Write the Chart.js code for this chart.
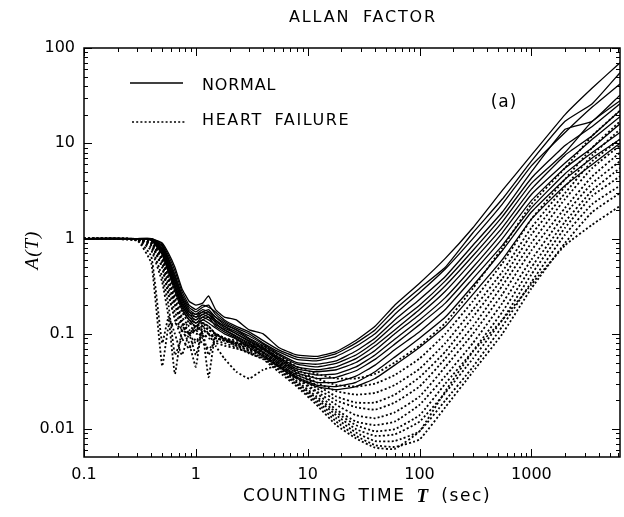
<!DOCTYPE html>
<html>
<head>
<meta charset="utf-8">
<script src="https://cdn.jsdelivr.net/npm/chart.js@4.4.1/dist/chart.umd.min.js"></script>
<style>
  html, body { margin: 0; padding: 0; background: #fff; }
</style>
</head>
<body>
<canvas id="grafico" width="624" height="517"></canvas>
<script>
// === DADOS ===
// tempos de contagem T (sec), partilhados por todas as curvas
const countingTimes = [0.1, 0.3, 0.4, 0.5, 0.57, 0.65, 0.75, 0.87, 1, 1.15, 1.3, 1.5, 1.8, 2.3, 3, 4, 5.5, 8, 12, 18, 27, 40, 60, 100, 170, 300, 550, 1000, 2000, 3500, 6200];

// A(T) - sujeitos normais (linha cheia)
const normal = [
  [1,1,1,0.9,0.7, 0.5,0.3,0.22,0.2,0.21, 0.25,0.18,0.15,0.14,0.11, 0.1,0.072,0.06,0.058,0.065, 0.085,0.12,0.2,0.34,0.62, 1.3,3.2,7.5,20,38, 70],
  [1,1,1,0.88,0.66, 0.46,0.28,0.2,0.18,0.2, 0.19,0.17,0.14,0.12,0.105, 0.085,0.068,0.057,0.055,0.062, 0.08,0.11,0.18,0.3,0.5, 1.15,2.6,6.5,17,26, 55],
  [1,1,0.99,0.85,0.62, 0.42,0.26,0.19,0.17,0.19, 0.2,0.16,0.135,0.115,0.1, 0.08,0.065,0.054,0.052,0.058, 0.074,0.1,0.16,0.27,0.48, 1.0,2.3,5.8,13,24, 42],
  [1,1,0.99,0.83,0.6, 0.4,0.25,0.18,0.16,0.18, 0.17,0.15,0.13,0.11,0.095, 0.078,0.062,0.05,0.048,0.052, 0.066,0.09,0.14,0.23,0.4, 0.85,1.9,5.0,14,17, 32],
  [1,1,0.98,0.8,0.58, 0.38,0.24,0.17,0.16,0.17, 0.18,0.15,0.125,0.11,0.09, 0.075,0.06,0.048,0.045,0.049, 0.06,0.082,0.125,0.2,0.36, 0.75,1.7,4.3,9.5,15, 26],
  [1,1,0.98,0.78,0.55, 0.36,0.23,0.17,0.15,0.17, 0.16,0.14,0.12,0.105,0.088, 0.072,0.057,0.045,0.042,0.045, 0.055,0.075,0.11,0.18,0.32, 0.66,1.5,3.8,8,17, 28],
  [1,1,0.98,0.77,0.54, 0.35,0.22,0.16,0.15,0.16, 0.17,0.14,0.12,0.1,0.085, 0.07,0.055,0.043,0.04,0.042, 0.05,0.067,0.1,0.16,0.28, 0.58,1.3,3.3,7.5,12, 22],
  [1,1,0.97,0.75,0.52, 0.33,0.21,0.16,0.14,0.16, 0.15,0.135,0.115,0.1,0.083, 0.068,0.053,0.041,0.037,0.038, 0.045,0.06,0.088,0.14,0.24, 0.5,1.15,2.9,6.2,11, 19],
  [1,1,0.97,0.74,0.5, 0.32,0.2,0.15,0.14,0.15, 0.16,0.13,0.11,0.095,0.08, 0.065,0.051,0.039,0.034,0.035, 0.041,0.054,0.078,0.125,0.21, 0.44,1.0,2.5,5.5,9, 16],
  [1,1,0.97,0.72,0.48, 0.31,0.2,0.15,0.13,0.15, 0.14,0.125,0.11,0.093,0.078, 0.063,0.049,0.037,0.031,0.031, 0.036,0.047,0.068,0.105,0.18, 0.38,0.85,2.1,4.8,8, 13],
  [1,1,0.96,0.7,0.46, 0.3,0.19,0.14,0.13,0.14, 0.15,0.12,0.105,0.09,0.075, 0.06,0.047,0.035,0.029,0.028, 0.031,0.04,0.057,0.09,0.15, 0.32,0.75,1.9,4.2,7, 11],
  [1,1,0.96,0.68,0.44, 0.28,0.18,0.14,0.12,0.14, 0.13,0.115,0.1,0.088,0.072, 0.058,0.045,0.034,0.028,0.026, 0.028,0.034,0.047,0.072,0.12, 0.26,0.6,1.6,3.6,6, 10]
];

// A(T) - insuficiência cardíaca (pontilhado)
const heartFailure = [
  [1,0.95,0.55,0.046,0.12, 0.13,0.11,0.1,0.12,0.11, 0.1,0.095,0.09,0.085,0.08, 0.075,0.06,0.045,0.038,0.034, 0.034,0.038,0.05,0.075,0.13, 0.3,0.8,2.3,5.5,12, 22],
  [1,0.97,0.75,0.35,0.15, 0.038,0.11,0.13,0.12,0.13, 0.11,0.1,0.09,0.082,0.078, 0.072,0.057,0.042,0.034,0.029, 0.028,0.03,0.037,0.055,0.1, 0.22,0.55,1.6,4.2,9, 17],
  [1,0.98,0.85,0.5,0.25, 0.15,0.11,0.08,0.045,0.13, 0.12,0.1,0.088,0.08,0.075, 0.07,0.055,0.04,0.031,0.025, 0.023,0.024,0.029,0.043,0.08, 0.18,0.45,1.3,3.5,7.5, 14],
  [1,0.99,0.88,0.55,0.3, 0.17,0.12,0.1,0.12,0.1, 0.035,0.1,0.09,0.08,0.072, 0.068,0.053,0.038,0.029,0.022, 0.019,0.019,0.023,0.035,0.065, 0.15,0.38,1.1,3.0,6.5, 11],
  [1,0.99,0.9,0.6,0.35, 0.2,0.13,0.1,0.11,0.12, 0.1,0.075,0.055,0.04,0.034, 0.042,0.046,0.036,0.027,0.02, 0.017,0.016,0.019,0.028,0.055, 0.12,0.32,0.9,2.6,5.5, 9.5],
  [1,0.96,0.65,0.08,0.15, 0.1,0.06,0.1,0.11,0.09, 0.1,0.09,0.085,0.08,0.075, 0.064,0.05,0.035,0.025,0.018, 0.014,0.013,0.015,0.022,0.045, 0.1,0.26,0.75,2.1,4.5, 8],
  [1,0.98,0.8,0.4,0.2, 0.06,0.09,0.1,0.06,0.11, 0.1,0.09,0.085,0.078,0.07, 0.062,0.048,0.034,0.024,0.016, 0.012,0.011,0.012,0.018,0.036, 0.08,0.21,0.6,1.8,3.8, 6.5],
  [1,0.99,0.9,0.6,0.35, 0.2,0.13,0.11,0.1,0.1, 0.06,0.09,0.085,0.075,0.068, 0.06,0.046,0.032,0.022,0.015, 0.011,0.0095,0.01,0.014,0.03, 0.066,0.17,0.5,1.5,3.2, 5.5],
  [1,0.99,0.92,0.65,0.4, 0.24,0.15,0.12,0.11,0.12, 0.11,0.1,0.09,0.077,0.066, 0.058,0.045,0.031,0.021,0.014, 0.01,0.0085,0.0088,0.012,0.024, 0.055,0.14,0.42,1.3,2.8, 4.5],
  [1,0.98,0.85,0.5,0.26, 0.14,0.09,0.07,0.09,0.08, 0.07,0.08,0.075,0.07,0.064, 0.056,0.043,0.03,0.02,0.013, 0.0092,0.0075,0.0075,0.0095,0.02, 0.045,0.12,0.35,1.1,2.3, 3.6],
  [1,0.99,0.9,0.62,0.38, 0.22,0.14,0.1,0.08,0.1, 0.09,0.085,0.08,0.072,0.062, 0.055,0.042,0.029,0.019,0.012, 0.0085,0.0068,0.0065,0.0078,0.017, 0.04,0.1,0.3,0.9,1.9, 3],
  [1,0.99,0.93,0.68,0.45, 0.27,0.17,0.13,0.12,0.13, 0.12,0.1,0.088,0.075,0.063, 0.054,0.04,0.028,0.018,0.011, 0.008,0.0064,0.0062,0.0095,0.025, 0.065,0.14,0.33,0.85,1.4, 2.2]
];

const xTicks = [0.1, 1, 10, 100, 1000];
const yTicks = [0.01, 0.1, 1, 10, 100];
const xRange = [0.1, 6200];
const yRange = [0.0051, 100];

// === ESTILO ===
const SANS = '"DejaVu Sans", sans-serif';
const SERIF = '"Liberation Serif", "DejaVu Serif", serif';

function serie(valores, tracejado) {
  return {
    data: countingTimes.map((t, i) => ({ x: t, y: valores[i] })),
    borderColor: '#000',
    borderWidth: tracejado ? 1.8 : 1.3,
    borderDash: tracejado ? [2, 2.2] : [],
    pointRadius: 0,
    tension: 0.12,
    fill: false
  };
}

const datasets = [
  ...heartFailure.map(v => serie(v, true)),
  ...normal.map(v => serie(v, false))
];

function linha(ctx, x1, y1, x2, y2) {
  ctx.beginPath();
  ctx.moveTo(x1, y1);
  ctx.lineTo(x2, y2);
  ctx.stroke();
}

// escreve texto com espaçamento entre letras e palavras
function texto(ctx, str, x, y, font, letra, palavra) {
  ctx.font = font;
  ctx.letterSpacing = letra + 'px';
  ctx.wordSpacing = palavra + 'px';
  ctx.fillText(str, x, y);
  const w = ctx.measureText(str).width;
  ctx.letterSpacing = '0px';
  ctx.wordSpacing = '0px';
  return w;
}

// moldura, marcas menores, títulos e legenda
const decoracao = {
  id: 'decoracao',
  afterDraw(chart) {
    const { ctx, chartArea: a, scales: { x, y } } = chart;
    ctx.save();
    ctx.strokeStyle = '#000';
    ctx.fillStyle = '#000';
    ctx.lineWidth = 1.5;
    ctx.strokeRect(a.left, a.top, a.right - a.left, a.bottom - a.top);

    ctx.lineWidth = 1;
    for (let d = -1; d <= 3; d++) {
      for (let m = 1; m <= 9; m++) {
        const v = m * Math.pow(10, d);
        if (v < xRange[0] || v > xRange[1]) continue;
        const px = Math.round(x.getPixelForValue(v)) + 0.5;
        const len = m === 1 ? 8 : 4;
        linha(ctx, px, a.bottom, px, a.bottom - len);
        linha(ctx, px, a.top, px, a.top + len);
      }
    }
    for (let d = -3; d <= 2; d++) {
      for (let m = 1; m <= 9; m++) {
        const v = m * Math.pow(10, d);
        if (v < yRange[0] || v > yRange[1]) continue;
        const py = Math.round(y.getPixelForValue(v)) + 0.5;
        const len = m === 1 ? 8 : 4;
        linha(ctx, a.left, py, a.left + len, py);
        linha(ctx, a.right, py, a.right - len, py);
      }
    }

    // título
    ctx.textBaseline = 'middle';
    ctx.textAlign = 'center';
    texto(ctx, 'ALLAN FACTOR', 363, 18, '16px ' + SANS, 1.8, 6);

    // título do eixo x
    ctx.textAlign = 'left';
    const fSans = '17px ' + SANS;
    const fT = 'italic bold 19px ' + SERIF;
    ctx.font = fSans; ctx.letterSpacing = '1.6px'; ctx.wordSpacing = '4px';
    const w1 = ctx.measureText('COUNTING TIME ').width;
    const w3 = ctx.measureText(' (sec)').width;
    ctx.font = fT; ctx.letterSpacing = '0px'; ctx.wordSpacing = '0px';
    const w2 = ctx.measureText('T').width;
    let cx = 366 - (w1 + w2 + w3) / 2;
    texto(ctx, 'COUNTING TIME ', cx, 497, fSans, 1.6, 4);
    texto(ctx, 'T', cx + w1, 497, fT, 0, 0);
    texto(ctx, ' (sec)', cx + w1 + w2 + 2, 497, fSans, 1.6, 4);

    // título do eixo y
    ctx.save();
    ctx.translate(33, 250);
    ctx.rotate(-Math.PI / 2);
    ctx.textAlign = 'center';
    texto(ctx, 'A(T)', 0, 0, 'italic 19px ' + SERIF, 1, 0);
    ctx.restore();

    // legenda
    ctx.lineWidth = 1.3;
    linha(ctx, 130, 83, 183, 83);
    ctx.setLineDash([2, 2.2]);
    ctx.lineWidth = 1.6;
    linha(ctx, 132, 122, 185, 122);
    ctx.setLineDash([]);
    ctx.textAlign = 'left';
    texto(ctx, 'NORMAL', 202, 86, '16px ' + SANS, 0.8, 0);
    texto(ctx, 'HEART FAILURE', 202, 121, '16px ' + SANS, 1.6, 5);

    ctx.textAlign = 'center';
    texto(ctx, '(a)', 504, 103, '17px ' + SANS, 1, 0);
    ctx.restore();
  }
};

function rotulo(v) {
  return (xTicks.includes(v) || yTicks.includes(v)) ? String(v) : '';
}

new Chart(document.getElementById('grafico').getContext('2d'), {
  type: 'line',
  data: { datasets: datasets },
  options: {
    responsive: false,
    animation: false,
    layout: { padding: { top: 48, right: 4, left: 0, bottom: 0 } },
    plugins: {
      legend: { display: false },
      tooltip: { enabled: false },
      title: { display: false }
    },
    scales: {
      x: {
        type: 'logarithmic',
        min: xRange[0],
        max: xRange[1],
        afterBuildTicks: s => { s.ticks = xTicks.map(v => ({ value: v })); },
        afterFit: s => { s.height = 60; },
        grid: { display: false, drawTicks: false },
        border: { display: false },
        ticks: {
          callback: rotulo,
          autoSkip: false,
          maxRotation: 0,
          padding: 8,
          color: '#000',
          font: { family: SANS, size: 16 }
        }
      },
      y: {
        type: 'logarithmic',
        min: yRange[0],
        max: yRange[1],
        afterBuildTicks: s => { s.ticks = yTicks.map(v => ({ value: v })); },
        afterFit: s => { s.width = 84; },
        grid: { display: false, drawTicks: false },
        border: { display: false },
        ticks: {
          callback: rotulo,
          autoSkip: false,
          padding: 9,
          color: '#000',
          font: { family: SANS, size: 16 }
        }
      }
    }
  },
  plugins: [decoracao]
});
</script>
</body>
</html>
